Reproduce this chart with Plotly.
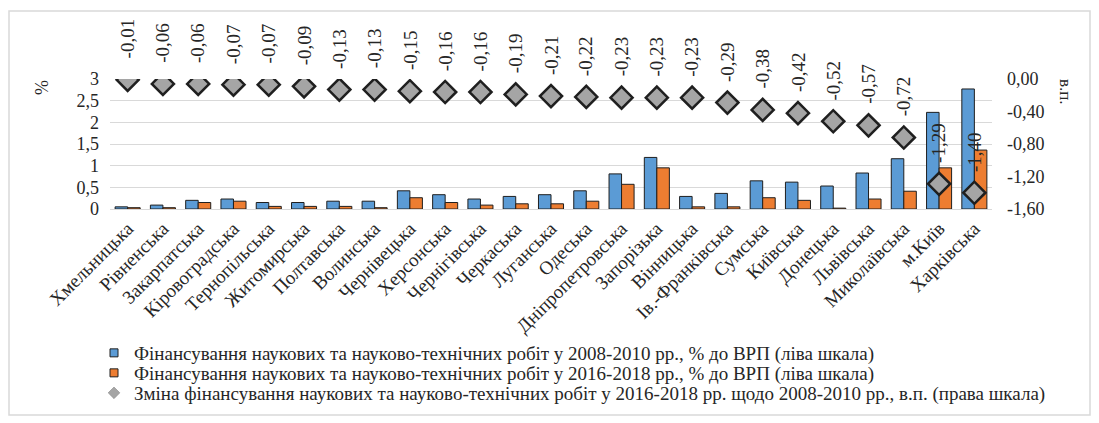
import plotly.graph_objects as go

# Regions ordered by change in funding (2016-2018 vs 2008-2010)
regions = [
    "Хмельницька", "Рівненська", "Закарпатська", "Кіровоградська", "Тернопільська",
    "Житомирська", "Полтавська", "Волинська", "Чернівецька", "Херсонська",
    "Чернігівська", "Черкаська", "Луганська", "Одеська", "Дніпропетровська",
    "Запорізька", "Вінницька", "Ів.-Франківська", "Сумська", "Київська",
    "Донецька", "Львівська", "Миколаївська", "м.Київ", "Харківська",
]

# % of GRP, left scale
funding_2008_2010 = [
    0.05, 0.09, 0.20, 0.23, 0.15, 0.15, 0.18, 0.18, 0.42, 0.33,
    0.23, 0.29, 0.33, 0.42, 0.81, 1.19, 0.29, 0.36, 0.65, 0.62,
    0.53, 0.83, 1.16, 2.23, 2.77,
]
funding_2016_2018 = [
    0.03, 0.03, 0.15, 0.18, 0.06, 0.06, 0.06, 0.03, 0.26, 0.15,
    0.09, 0.12, 0.12, 0.18, 0.57, 0.95, 0.05, 0.05, 0.26, 0.20,
    0.02, 0.23, 0.41, 0.95, 1.36,
]

# change, percentage points, right scale
change_pp = [
    -0.01, -0.06, -0.06, -0.07, -0.07, -0.09, -0.13, -0.13, -0.15, -0.16,
    -0.16, -0.19, -0.21, -0.22, -0.23, -0.23, -0.23, -0.29, -0.38, -0.42,
    -0.52, -0.57, -0.72, -1.29, -1.40,
]

left_tickvals = [0, 0.5, 1, 1.5, 2, 2.5, 3]
left_ticktext = ["0", "0,5", "1", "1,5", "2", "2,5", "3"]
right_tickvals = [0, -0.4, -0.8, -1.2, -1.6]
right_ticktext = ["0,00", "-0,40", "-0,80", "-1,20", "-1,60"]

name_0810 = "Фінансування наукових та науково-технічних робіт у 2008-2010 рр., % до ВРП (ліва шкала)"
name_1618 = "Фінансування наукових та науково-технічних робіт у 2016-2018 рр., % до ВРП (ліва шкала)"
name_change = ("Зміна фінансування наукових та науково-технічних робіт у 2016-2018 рр. "
               "щодо 2008-2010 рр., в.п. (права шкала)")

FONT = "Liberation Serif, DejaVu Serif Condensed, DejaVu Serif, serif"
TXT = "#262626"
BLUE = "#5B9BD5"
ORANGE = "#ED7D31"
GREY = "#A5A5A5"
EDGE = "#1f1f1f"

W, H = 1099, 423
L, R, T, B = 110, 107, 79, 214
pw, ph = W - L - R, H - T - B


def px_x(v):
    return (v - L) / pw


def px_y(v):
    return (H - B - v) / ph


fig = go.Figure()

fig.add_trace(go.Bar(
    x=regions, y=funding_2008_2010, name=name_0810, showlegend=False,
    marker=dict(color=BLUE, line=dict(color=EDGE, width=1)),
))
fig.add_trace(go.Bar(
    x=regions, y=funding_2016_2018, name=name_1618, showlegend=False,
    marker=dict(color=ORANGE, line=dict(color=EDGE, width=1)),
))
fig.add_trace(go.Scatter(
    x=regions, y=change_pp, yaxis="y2", mode="markers", name=name_change,
    showlegend=False,
    marker=dict(symbol="diamond", size=17, color=GREY, line=dict(color=EDGE, width=2.5)),
))

# legend entries with small symbols, one legend per row to keep the tight spacing
legend_rows = [
    (name_0810, BLUE, "square", "legend", 353),
    (name_1618, ORANGE, "square", "legend2", 373),
    (name_change, GREY, "diamond", "legend3", 393),
]
for nm, col, sym, lg, _ in legend_rows:
    fig.add_trace(go.Scatter(
        x=[None], y=[None], mode="markers", name=nm, legend=lg,
        marker=dict(symbol=sym, size=8 if sym == "square" else 9, color=col,
                    line=dict(color=EDGE if sym == "square" else "#7f7f7f",
                              width=1 if sym == "square" else 0.5)),
    ))

# rotated value labels above the diamonds
for reg, val in zip(regions, change_pp):
    fig.add_annotation(
        x=reg, y=val, yref="y2",
        text=f"{val:.2f}".replace(".", ","),
        textangle=-90, showarrow=False,
        yanchor="bottom", yshift=19,
        font=dict(family=FONT, size=19, color=TXT),
    )

# axis titles
fig.add_annotation(x=px_x(42), y=px_y(88), xref="paper", yref="paper", text="%",
                   xanchor="center", yanchor="middle",
                   showarrow=False, textangle=-90, font=dict(family=FONT, size=18, color=TXT))
fig.add_annotation(x=px_x(1066), y=px_y(92), xref="paper", yref="paper", text="в.п.",
                   xanchor="center", yanchor="middle",
                   showarrow=False, textangle=90, font=dict(family=FONT, size=17, color=TXT))

# outer chart frame
fig.add_shape(type="rect", xref="paper", yref="paper",
              x0=px_x(9), x1=px_x(1090), y0=px_y(11), y1=px_y(415),
              line=dict(color="#d9d9d9", width=1.5), fillcolor="rgba(0,0,0,0)")

legend_style = dict(
    xanchor="left", yanchor="middle",
    font=dict(family=FONT, size=19, color=TXT),
    itemwidth=30, tracegroupgap=0, bgcolor="rgba(0,0,0,0)",
)

fig.update_layout(
    width=W, height=H,
    margin=dict(l=L, r=R, t=T, b=B, autoexpand=False),
    paper_bgcolor="white", plot_bgcolor="white",
    font=dict(family=FONT, size=18, color=TXT),
    barmode="group", bargap=0.29, bargroupgap=0,
    showlegend=True,
    legend=dict(x=px_x(94), y=px_y(legend_rows[0][4]), **legend_style),
    legend2=dict(x=px_x(94), y=px_y(legend_rows[1][4]), **legend_style),
    legend3=dict(x=px_x(94), y=px_y(legend_rows[2][4]), **legend_style),
    xaxis=dict(
        range=[-0.5, len(regions) - 0.5],
        tickangle=-45, tickfont=dict(size=19), showgrid=False,
        showline=True, linecolor="#d9d9d9", ticks="", automargin=False,
    ),
    yaxis=dict(
        range=[0, 3], tickvals=left_tickvals, ticktext=left_ticktext,
        showgrid=True, gridcolor="#d9d9d9", zeroline=False, ticks="",
        ticklabelstandoff=10, automargin=False,
    ),
    yaxis2=dict(
        range=[-1.6, 0], overlaying="y", side="right",
        tickvals=right_tickvals, ticktext=right_ticktext,
        showgrid=False, zeroline=False, ticks="", ticklabelstandoff=14,
        automargin=False,
    ),
)

# drop the default page margin so the chart sits at the window's top-left
fig.write_html("out.html", config={"displayModeBar": False},
               post_script="document.body.style.margin='0';")
